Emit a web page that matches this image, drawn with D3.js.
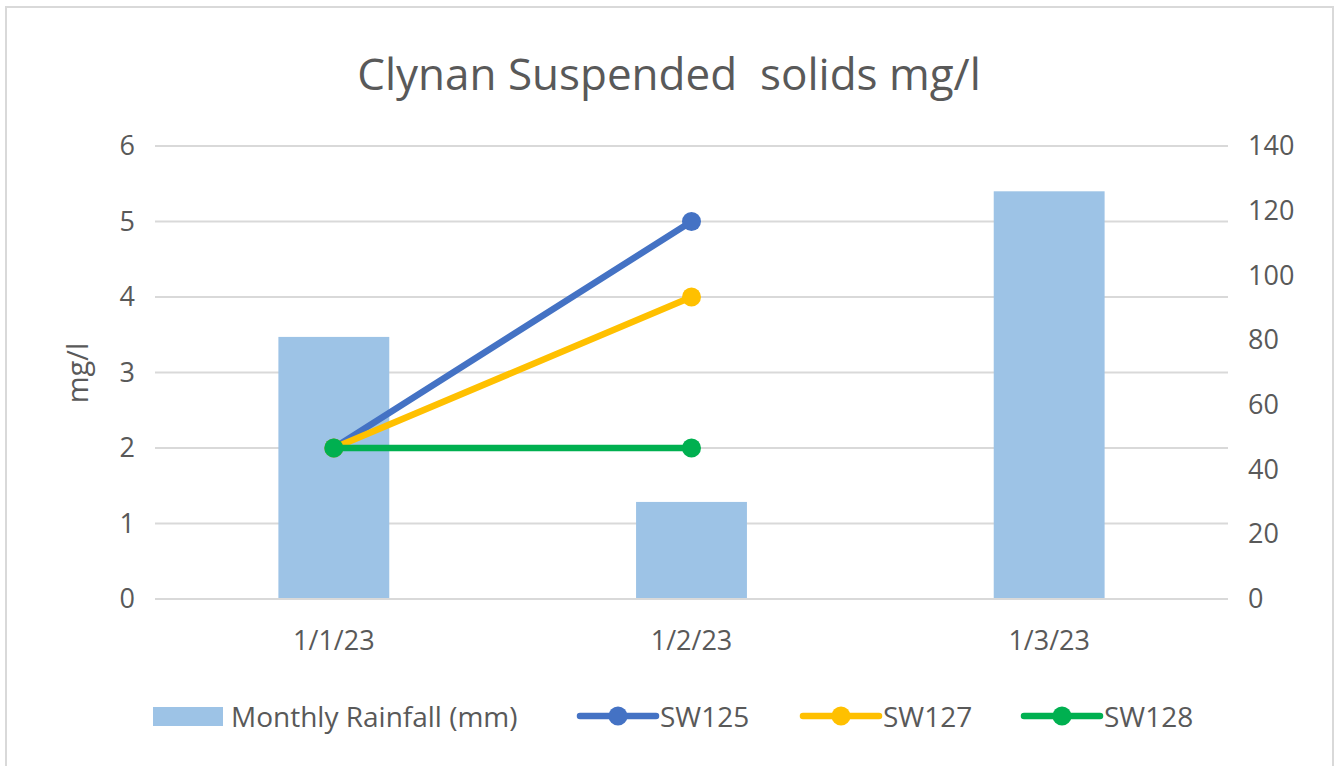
<!DOCTYPE html>
<html>
<head>
<meta charset="utf-8">
<script src="https://cdn.jsdelivr.net/npm/d3@7"></script>
<style>
  html, body { margin: 0; padding: 0; background: #fff; }
  svg { display: block; }
  text { font-family: "Open Sans", sans-serif; fill: #595959; white-space: pre; }
</style>
</head>
<body>
<svg id="chart" width="1335" height="766"></svg>
<script>
const categories = ["1/1/23", "1/2/23", "1/3/23"];
const rainfall = [81, 30, 126];
const seriesNames = ["SW125", "SW127", "SW128"];
const sw125 = [2, 5, null];
const sw127 = [2, 4, null];
const sw128 = [2, 2, null];
const leftTicks = [0, 1, 2, 3, 4, 5, 6];
const rightTicks = [0, 20, 40, 60, 80, 100, 120, 140];
const title = "Clynan Suspended  solids mg/l";
const yTitle = "mg/l";
const barLabel = "Monthly Rainfall (mm)";

const colors = { bar: "#9DC3E6", SW125: "#4472C4", SW127: "#FFC000", SW128: "#00B050" };
const seriesData = { SW125: sw125, SW127: sw127, SW128: sw128 };

const svg = d3.select("#chart");
const W = 1335, H = 766;
const plot = { left: 155, right: 1228, top: 146, bottom: 599 };
const FONT = "'Open Sans', sans-serif";

// frame
svg.append("path")
  .attr("d", `M6,${H} V7 H1333 V${H}`)
  .attr("fill", "none").attr("stroke", "#D9D9D9").attr("stroke-width", 2);

const x = d3.scaleBand().domain(categories).range([plot.left, plot.right])
  .paddingInner(0.69).paddingOuter(0.345);
const yL = d3.scaleLinear().domain([0, 6]).range([plot.bottom, plot.top]);
const yR = d3.scaleLinear().domain([0, 140]).range([plot.bottom, plot.top]);
const cx = c => x(c) + x.bandwidth() / 2;

// gridlines
svg.append("g").selectAll("line").data(leftTicks).join("line")
  .attr("x1", plot.left).attr("x2", plot.right)
  .attr("y1", d => yL(d)).attr("y2", d => yL(d))
  .attr("stroke", "#D9D9D9").attr("stroke-width", 2);

// left axis
const axL = svg.append("g").attr("transform", `translate(${plot.left},0)`)
  .call(d3.axisLeft(yL).tickValues(leftTicks).tickFormat(d3.format("d")).tickSize(0).tickPadding(20));
axL.select(".domain").remove();
axL.selectAll("text").attr("font-size", 27).attr("fill", "#595959").style("font-family", FONT);

// right axis
const axR = svg.append("g").attr("transform", `translate(${plot.right},0)`)
  .call(d3.axisRight(yR).tickValues(rightTicks).tickFormat(d3.format("d")).tickSize(0).tickPadding(20));
axR.select(".domain").remove();
axR.selectAll("text").attr("font-size", 27).attr("fill", "#595959").style("font-family", FONT);

// bars
svg.append("g").selectAll("rect").data(categories).join("rect")
  .attr("x", d => x(d)).attr("width", x.bandwidth())
  .attr("y", (d, i) => yR(rainfall[i]))
  .attr("height", (d, i) => yR(0) - yR(rainfall[i]))
  .attr("fill", colors.bar);

// x axis line
svg.append("line").attr("x1", plot.left).attr("x2", plot.right)
  .attr("y1", plot.bottom).attr("y2", plot.bottom)
  .attr("stroke", "#D9D9D9").attr("stroke-width", 2);

// x labels
const axX = svg.append("g").attr("transform", `translate(0,${plot.bottom})`)
  .call(d3.axisBottom(x).tickSize(0).tickPadding(32));
axX.select(".domain").remove();
axX.selectAll("text").attr("font-size", 27).attr("fill", "#595959").style("font-family", FONT);

// lines
const line = d3.line().defined(d => d.v != null).x(d => cx(d.c)).y(d => yL(d.v));
seriesNames.forEach(name => {
  const pts = categories.map((c, i) => ({ c, v: seriesData[name][i] }));
  svg.append("path").datum(pts).attr("d", line)
    .attr("fill", "none").attr("stroke", colors[name]).attr("stroke-width", 6.5)
    .attr("stroke-linecap", "round");
  svg.append("g").selectAll("circle").data(pts.filter(d => d.v != null)).join("circle")
    .attr("cx", d => cx(d.c)).attr("cy", d => yL(d.v)).attr("r", 9.5)
    .attr("fill", colors[name]);
});

// title
svg.append("text").attr("x", 669).attr("y", 90).attr("text-anchor", "middle")
  .attr("font-size", 44).attr("xml:space", "preserve").text(title);

// y title
svg.append("text").attr("transform", "translate(88,373) rotate(-90)")
  .attr("text-anchor", "middle").attr("font-size", 29).attr("fill", "#404040").text(yTitle);

// legend
const lg = svg.append("g");
lg.append("rect").attr("x", 153).attr("y", 707).attr("width", 70).attr("height", 19).attr("fill", colors.bar);
lg.append("text").attr("x", 231).attr("y", 727).attr("font-size", 28).text(barLabel);
const legX = { SW125: 580, SW127: 803, SW128: 1024 };
seriesNames.forEach(name => {
  const lx = legX[name];
  lg.append("line").attr("x1", lx).attr("x2", lx + 76).attr("y1", 716).attr("y2", 716)
    .attr("stroke", colors[name]).attr("stroke-width", 6.5).attr("stroke-linecap", "round");
  lg.append("circle").attr("cx", lx + 38).attr("cy", 716).attr("r", 9.5).attr("fill", colors[name]);
  lg.append("text").attr("x", lx + 80).attr("y", 727).attr("font-size", 28).text(name);
});
</script>
</body>
</html>
